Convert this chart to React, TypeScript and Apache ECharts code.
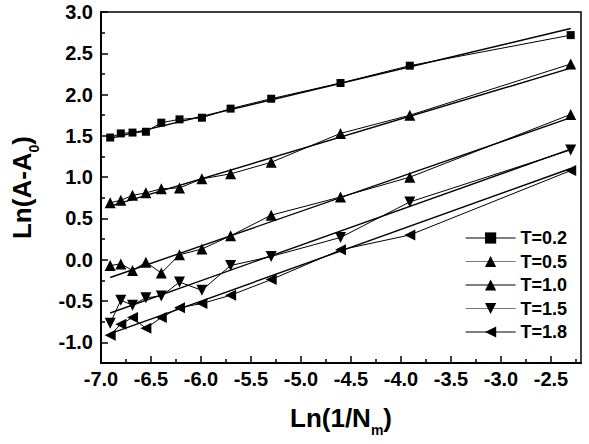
import React, { useEffect, useRef } from "react";
import * as echarts from "echarts";

// ln(1/Nm) for Nm = 1000, 900, 800, 700, 600, 500, 400, 300, 200, 100, 50, 10
const xValues = [-6.908, -6.802, -6.685, -6.551, -6.397, -6.215, -5.991, -5.704, -5.298, -4.605, -3.912, -2.303];

const seriesNames = ["T=0.2", "T=0.5", "T=1.0", "T=1.5", "T=1.8"];

const t02 = [1.48, 1.53, 1.54, 1.55, 1.66, 1.7, 1.72, 1.83, 1.95, 2.14, 2.35, 2.72];
const t05 = [0.69, 0.72, 0.78, 0.81, 0.86, 0.87, 0.98, 1.04, 1.18, 1.53, 1.75, 2.37];
const t10 = [-0.07, -0.05, -0.13, -0.03, -0.16, 0.06, 0.13, 0.29, 0.54, 0.76, 1.0, 1.76];
const t15 = [-0.77, -0.49, -0.55, -0.46, -0.44, -0.27, -0.37, -0.07, 0.04, 0.27, 0.7, 1.33];
const t18 = [-0.915, -0.78, -0.7, -0.83, -0.7, -0.58, -0.53, -0.43, -0.24, 0.12, 0.3, 1.08];

// linear fit end points (at first and last x)
const fitX = [-6.908, -2.303];
const fit02 = [1.47, 2.8];
const fit05 = [0.65, 2.32];
const fit10 = [-0.215, 1.72];
const fit15 = [-0.645, 1.34];
const fit18 = [-0.895, 1.105];

const xMajorTicks = [-7.0, -6.5, -6.0, -5.5, -5.0, -4.5, -4.0, -3.5, -3.0, -2.5];
const xMinorTicks = [-6.75, -6.25, -5.75, -5.25, -4.75, -4.25, -3.75, -3.25, -2.75, -2.25];
const yMajorTicks = [-1.0, -0.5, 0.0, 0.5, 1.0, 1.5, 2.0, 2.5, 3.0];
const yMinorTicks = [-0.75, -0.25, 0.25, 0.75, 1.25, 1.75, 2.25, 2.75];

const FONT = "'Liberation Sans', Arial, sans-serif";

export default function App() {
  const ref = useRef<HTMLDivElement>(null);
  useEffect(() => {
    if (!ref.current) return;
    const chart = echarts.init(ref.current, undefined, { renderer: "svg" });
    const pair = (xs: number[], ys: number[]) => xs.map((x, i) => [x, ys[i]]);
    const dataSets = [t02, t05, t10, t15, t18];
    const fits = [fit02, fit05, fit10, fit15, fit18];
    const symbols = ["rect", "triangle", "triangle", "triangle", "triangle"];
    const rotates = [0, 0, 0, 180, 90];
    const sizes = [8, 11, 11, 11, 11];
    const legendLineColors = ["#000", "#777", "#000", "#777", "#000"];

    const series: any[] = [];
    dataSets.forEach((d, i) => {
      series.push({
        name: seriesNames[i],
        type: "line",
        data: pair(xValues, d),
        symbol: symbols[i],
        symbolSize: sizes[i],
        symbolRotate: rotates[i],
        itemStyle: { color: "#000" },
        lineStyle: { color: "#000", width: 1 },
        z: 3,
      });
      series.push({
        name: "fit" + i,
        type: "line",
        data: pair(fitX, fits[i]),
        symbol: "none",
        lineStyle: { color: "#000", width: 1.4 },
        silent: true,
        z: 2,
      });
    });

    const nameStyle = {
      fontFamily: FONT,
      fontSize: 26,
      fontWeight: "bold",
      color: "#000",
      lineHeight: 30,
      rich: {
        sub: { fontFamily: FONT, fontSize: 14, fontWeight: "bold", color: "#000", verticalAlign: "bottom", lineHeight: 14, padding: [0, 0, -4, 0] },
      },
    };
    const labelStyle = {
      formatter: (v: number) => v.toFixed(1),
      fontFamily: FONT,
      fontSize: 20,
      fontWeight: "bold",
      color: "#000",
    };

    chart.setOption({
      animation: false,
      backgroundColor: "#fff",
      grid: {
        left: 101,
        top: 12,
        right: 8,
        bottom: 81,
        show: true,
        borderColor: "#000",
        borderWidth: 1.5,
        backgroundColor: "transparent",
        containLabel: false,
        outerBoundsMode: "none",
      },
      legend: {
        orient: "vertical",
        left: 465,
        top: 229,
        itemWidth: 50,
        itemHeight: 14,
        itemGap: 5.5,
        padding: 0,
        data: seriesNames.map((n, i) => ({ name: n, lineStyle: { color: legendLineColors[i], width: 1.2 } })),
        textStyle: { fontFamily: FONT, fontSize: 18, fontWeight: "bold", color: "#000" },
      },
      xAxis: [
        {
          type: "value",
          min: -7.0,
          max: -2.2,
          splitLine: { show: false },
          name: "Ln(1/N{sub|m})",
          nameLocation: "middle",
          nameGap: 40,
          nameTextStyle: nameStyle,
          axisLine: { show: true, onZero: false, lineStyle: { color: "#000", width: 2 } },
          axisTick: { show: true, inside: true, length: 7, customValues: xMajorTicks, lineStyle: { color: "#000", width: 1.5 } },
          axisLabel: { ...labelStyle, customValues: xMajorTicks, margin: 6 },
        },
        {
          type: "value",
          min: -7.0,
          max: -2.2,
          position: "bottom",
          splitLine: { show: false },
          axisLine: { show: false, onZero: false },
          axisTick: { show: true, inside: true, length: 4, customValues: xMinorTicks, lineStyle: { color: "#000", width: 1.5 } },
          axisLabel: { show: false },
        },
      ],
      yAxis: [
        {
          type: "value",
          min: -1.25,
          max: 3.0,
          splitLine: { show: false },
          name: "Ln(A-A{sub|0})",
          nameLocation: "middle",
          nameGap: 64,
          nameTextStyle: nameStyle,
          axisLine: { show: true, onZero: false, lineStyle: { color: "#000", width: 2 } },
          axisTick: { show: true, inside: true, length: 7, customValues: yMajorTicks, lineStyle: { color: "#000", width: 1.5 } },
          axisLabel: { ...labelStyle, customValues: yMajorTicks, margin: 8 },
        },
        {
          type: "value",
          min: -1.25,
          max: 3.0,
          position: "left",
          splitLine: { show: false },
          axisLine: { show: false, onZero: false },
          axisTick: { show: true, inside: true, length: 4, customValues: yMinorTicks, lineStyle: { color: "#000", width: 1.5 } },
          axisLabel: { show: false },
        },
      ],
      series,
    });
    return () => chart.dispose();
  }, []);
  return <div ref={ref} style={{ width: 589, height: 444, position: "absolute", left: 0, top: 0 }} />;
}
